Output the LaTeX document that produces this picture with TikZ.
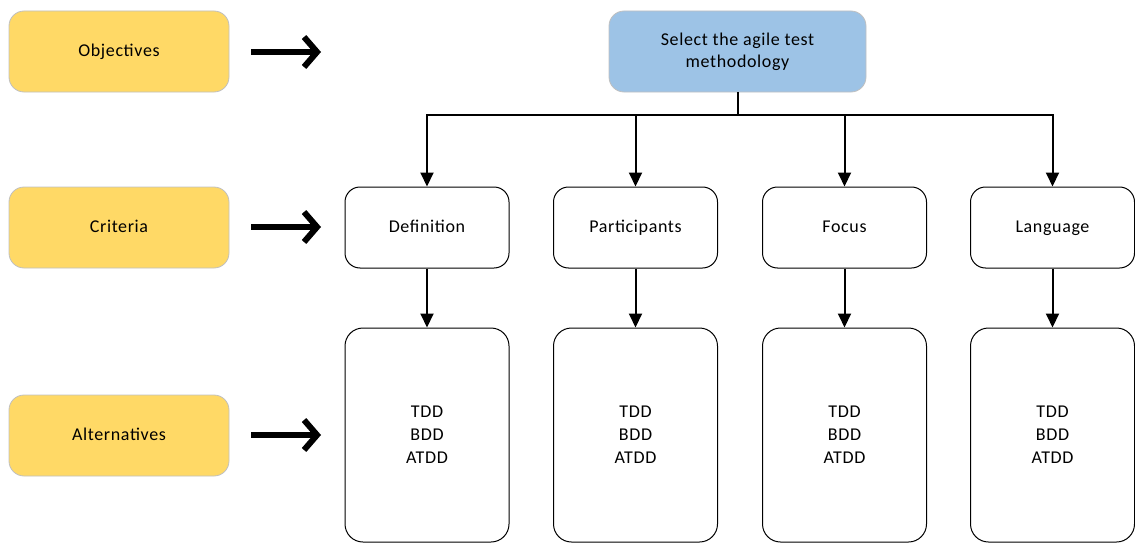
\documentclass[tikz,border=0pt]{standalone}
\usepackage{fontspec}
\setmainfont{Carlito}[LetterSpace=3.5]
\usetikzlibrary{arrows.meta}
\definecolor{goldfill}{HTML}{FFD966}
\definecolor{bluefill}{HTML}{9DC3E6}
\definecolor{softedge}{HTML}{C0C0C0}
\tikzset{
  oneline/.style={text height=13.5pt, text depth=3.5pt},
  levelbox/.style={oneline, draw=softedge, line width=0.8pt, fill=goldfill, rounded corners=15pt,
    minimum width=220pt, minimum height=81pt, inner sep=0pt, align=center},
  goalbox/.style={draw=softedge, line width=0.8pt, fill=bluefill, rounded corners=15pt,
    minimum width=257pt, minimum height=81pt, inner sep=0pt, align=center,
    font=\fontsize{18}{22}\selectfont},
  critbox/.style={oneline, draw=black, line width=1pt, rounded corners=15pt,
    minimum width=164pt, minimum height=81pt, inner sep=0pt, align=center},
  altbox/.style={draw=black, line width=1pt, rounded corners=18pt,
    minimum width=164pt, minimum height=214pt, inner sep=0pt, align=center,
    font=\fontsize{18}{23}\selectfont},
  bigarrow/.style={line width=6pt, -{Straight Barb[length=13pt, width=30pt]}},
  flow/.style={line width=2pt, -{Triangle[length=14pt, width=13pt]}},
}
\begin{document}
\begin{tikzpicture}[x=1pt, y=-1pt, font=\fontsize{18}{22}\selectfont]
  \useasboundingbox (0,0) rectangle (1135,543);

  % level labels on the left
  \node[levelbox] (obj) at (119,51.5) {Objectives};
  \node[levelbox] (crit) at (119,227.5) {Criteria};
  \node[levelbox] (alt) at (119,435.5) {Alternatives};

  % thick pointers from the level labels
  \coordinate (p1s) at (251,52);  \coordinate (p1e) at (321,52);
  \coordinate (p2s) at (251,227); \coordinate (p2e) at (321,227);
  \coordinate (p3s) at (251,435); \coordinate (p3e) at (321,435);
  \draw[bigarrow] (p1s) -- (p1e);
  \draw[bigarrow] (p2s) -- (p2e);
  \draw[bigarrow] (p3s) -- (p3e);

  % goal
  \node[goalbox] (goal) at (737.5,51.5) {Select the agile test\\methodology};

  % criteria
  \node[critbox] (c1) at (427,227.5) {Definition};
  \node[critbox] (c2) at (635.5,227.5) {Participants};
  \node[critbox] (c3) at (844.5,227.5) {Focus};
  \node[critbox] (c4) at (1052.5,227.5) {Language};

  % alternatives
  \node[altbox] (a1) at (427,435) {TDD\\BDD\\ATDD};
  \node[altbox] (a2) at (635.5,435) {TDD\\BDD\\ATDD};
  \node[altbox] (a3) at (844.5,435) {TDD\\BDD\\ATDD};
  \node[altbox] (a4) at (1052.5,435) {TDD\\BDD\\ATDD};

  % hierarchy connectors
  \coordinate (bus) at (737.5,115);
  \draw[line width=2pt] (goal.south) -- (bus);
  \foreach \c in {c1,c2,c3,c4} {
    \draw[flow] (bus) -| (\c.north);
  }
  \foreach \c/\a in {c1/a1,c2/a2,c3/a3,c4/a4} {
    \draw[flow] (\c.south) -- (\a.north);
  }
\end{tikzpicture}
\end{document}
